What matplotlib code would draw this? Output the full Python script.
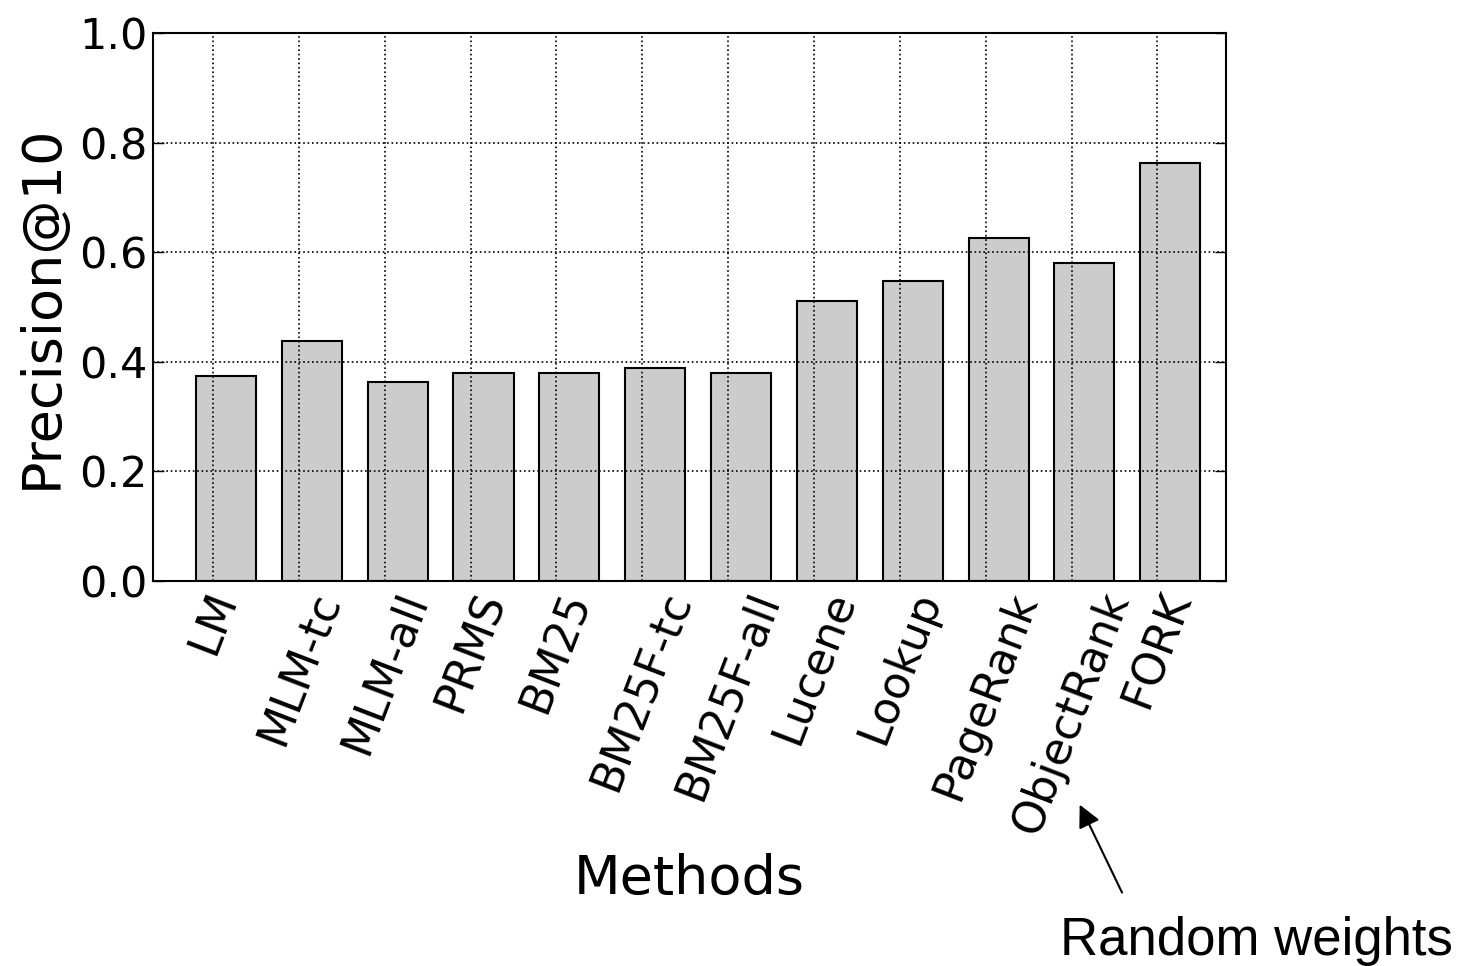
import numpy as np
import matplotlib
matplotlib.use("Agg")
import matplotlib.pyplot as plt

methods = ["LM", "MLM-tc", "MLM-all", "PRMS", "BM25", "BM25F-tc", "BM25F-all",
           "Lucene", "Lookup", "PageRank", "ObjectRank", "FORK"]
precision = [0.374, 0.438, 0.363, 0.380, 0.380, 0.389, 0.380,
             0.511, 0.547, 0.626, 0.580, 0.763]

fig = plt.figure(figsize=(14.61, 9.66), dpi=100)
ax = fig.add_axes([0.1047, 0.3986, 0.7345, 0.5672])

ind = np.arange(len(methods))
ax.bar(ind, precision, width=0.7, align="edge", color="#cccccc",
       edgecolor="black", linewidth=1.5)

ax.set_xlim(-0.5, len(methods))
ax.set_ylim(0, 1.0)
ax.set_yticks(np.arange(0, 1.01, 0.2))
ax.set_yticklabels(["%.1f" % v for v in np.arange(0, 1.01, 0.2)], fontsize=31)
ax.set_xticks(ind + 0.2)
ax.set_xticklabels(methods, rotation=69, ha="center", fontsize=32)

ax.tick_params(direction="in", length=8, width=1, top=True, right=True, pad=4)
ax.tick_params(axis="x", length=0, pad=3)
ax.grid(True, color="black", linestyle=":", linewidth=1.2)
ax.set_axisbelow(False)
for s in ax.spines.values():
    s.set_linewidth(1.5)

ax.set_ylabel("Precision@10", fontsize=39, labelpad=8)
ax.set_xlabel("Methods", fontsize=39)
ax.xaxis.set_label_coords(0.5, -0.497)

fig.text(0.7255, 0.011, "Random weights", fontsize=38, family="Liberation Sans")
ax.annotate("", xy=(0.739, 0.167), xycoords="figure fraction",
            xytext=(0.768, 0.076), textcoords="figure fraction",
            arrowprops=dict(arrowstyle="-|>", color="black", lw=1.5,
                            mutation_scale=34, shrinkA=0, shrinkB=0),
            annotation_clip=False)

fig.savefig("out.png", dpi=100)
